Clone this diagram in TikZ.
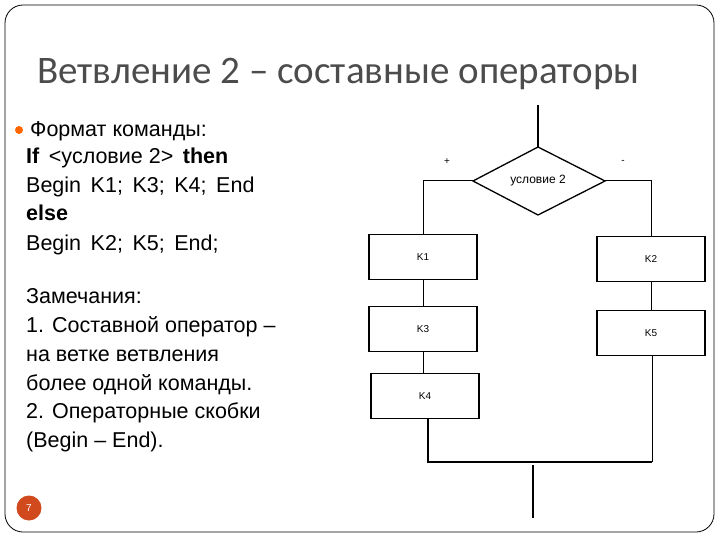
\documentclass[tikz,border=0pt]{standalone}
\usepackage{fontspec}
\usetikzlibrary{shapes.geometric}
\setmainfont{Liberation Sans}
\newfontfamily\titlefont{Carlito}
\begin{document}
\begin{tikzpicture}[x=1pt,y=-1pt,
  box/.style={draw,line width=1.6pt,minimum width=108pt,minimum height=45pt,font=\fontsize{10}{12}\selectfont,inner sep=0pt},
  ln/.style={line width=1pt},
  tl/.style={anchor=base west,font=\fontsize{21.5}{24}\selectfont,inner sep=0pt}]
\useasboundingbox (0,0) rectangle (720,540);
\draw[line width=0.8pt,rounded corners=18pt] (5,5) rectangle (714,532);
\node[anchor=base west,inner sep=0pt,text=black!70,font=\titlefont\fontsize{39}{44}\selectfont] (title) at (37,84) {Ветвление 2 – составные операторы};
\fill[orange!80!red] (19,130) circle (4pt);
\node[tl] (t1) at (30,137) {Формат команды:};
\node[tl] (t2) at (26,164) {\textbf{If} \,{<}условие 2{>}\, \textbf{then}};
\node[tl] (t3) at (26,193) {Begin \,K1; \,K3; \,K4; \,End};
\node[tl] (t4) at (26,221) {\textbf{else}};
\node[tl] (t5) at (26,250) {Begin \,K2; \,K5; \,End;};
\node[tl] (t6) at (26,303) {Замечания:};
\node[tl] (t7) at (26,332) {1. Составной оператор –};
\node[tl] (t8) at (26,361) {на ветке ветвления};
\node[tl] (t9) at (26,390) {более одной команды.};
\node[tl] (t10) at (26,418) {2. Операторные скобки};
\node[tl] (t11) at (26,447) {(Begin – End).};
\node[circle,fill={rgb,255:red,208;green,74;blue,30},minimum size=25pt,inner sep=0pt,text=white,font=\fontsize{10}{12}\selectfont] (pg) at (29,508) {7};
% flowchart
\coordinate (top) at (538,105);
\coordinate (dn) at (538,147);
\coordinate (dw) at (473,181);
\coordinate (de) at (605,181);
\coordinate (ds) at (538,215);
\draw[line width=1.3pt] (dn) -- (de) -- (ds) -- (dw) -- cycle;
\node[font=\fontsize{12}{14}\selectfont] (dt) at (538,181) {условие 2};
\node[box] (k1) at (423,257) {K1};
\node[box] (k3) at (423,329) {K3};
\node[box] (k4) at (425,396) {K4};
\node[box] (k2) at (651,259) {K2};
\node[box] (k5) at (651,333) {K5};
\node[font=\fontsize{10}{12}\selectfont] (plus) at (447,162) {+};
\node[font=\fontsize{10}{12}\selectfont] (minus) at (623,162) {-};
\coordinate (jl) at (428,462);
\coordinate (jr) at (652,462);
\coordinate (b1) at (533,465);
\coordinate (b2) at (533,518);
\draw[line width=1.6pt] (top) -- (dn);
\draw[ln] (dw) -| (k1.north);
\draw[ln] (de) -| (k2.north);
\draw[ln] (k1) -- (k3);
\draw[ln] (k3.south) -- (k3.south |- k4.north);
\draw[ln] (k2) -- (k5);
\draw[line width=1.6pt] (k4.south -| jl) -- (jl) -- (jr);
\draw[ln] (k5.south -| jr) -- (jr);
\draw[line width=1.6pt] (b1) -- (b2);
\end{tikzpicture}
\end{document}
